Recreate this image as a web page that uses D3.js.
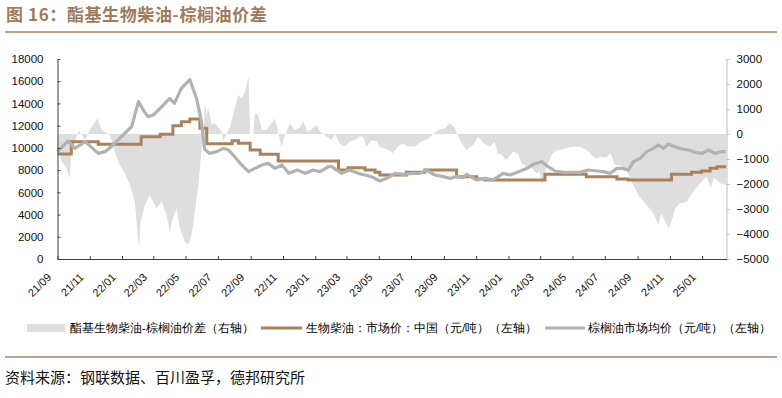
<!DOCTYPE html>
<html>
<head>
<meta charset="utf-8">
<script src="https://cdn.jsdelivr.net/npm/d3@7"></script>
<style>
  body { margin: 0; background: #fff; }
  text { font-family: "Liberation Sans", Arial, sans-serif; }
  .cjk { font-family: "Noto Sans CJK SC", sans-serif; }
</style>
</head>
<body>
<script>
// x axis labels (yy/mm)
var tickLabels = ["21/09","21/11","22/01","22/03","22/05","22/07","22/09","22/11","23/01","23/03",
  "23/05","23/07","23/09","23/11","24/01","24/03","24/05","24/07","24/09","24/11","25/01"];
var leftTicks = [0,2000,4000,6000,8000,10000,12000,14000,16000,18000];
var rightTicks = [-5000,-4000,-3000,-2000,-1000,0,1000,2000,3000];

// 酯基生物柴油-棕榈油价差 (右轴)
var spread = [
  ["2021-09-01",-600],["2021-09-05",-840],["2021-09-09",-1110],["2021-09-18",-1370],["2021-09-24",-1770],
  ["2021-09-27",-840],["2021-10-04",-310],["2021-10-11",160],["2021-10-23",-240],["2021-11-01",160],
  ["2021-11-07",360],["2021-11-16",630],["2021-11-23",160],["2021-11-29",90],["2021-12-09",-40],
  ["2021-12-18",-710],["2021-12-28",-1240],["2022-01-06",-1570],["2022-01-16",-2040],["2022-01-25",-2710],
  ["2022-01-30",-3910],["2022-02-02",-4570],["2022-02-05",-3510],["2022-02-13",-2840],["2022-02-22",-2440],
  ["2022-03-01",-2710],["2022-03-07",-2970],["2022-03-17",-2710],["2022-03-26",-3240],["2022-04-01",-3910],
  ["2022-04-07",-3370],["2022-04-14",-2970],["2022-04-20",-3770],["2022-04-30",-4310],["2022-05-05",-4400],
  ["2022-05-09",-4310],["2022-05-15",-3710],["2022-05-22",-2500],["2022-05-25",-2110],["2022-05-31",-640],
  ["2022-06-04",-100],["2022-06-06",1230],["2022-06-10",760],["2022-06-13",1030],["2022-06-19",360],
  ["2022-06-25",430],["2022-07-01",290],["2022-07-08",90],["2022-07-11",-310],["2022-07-17",0],
  ["2022-07-24",290],["2022-07-30",760],["2022-08-08",1560],["2022-08-15",1430],["2022-08-21",1690],
  ["2022-08-28",2290],["2022-08-31",0],["2022-09-06",0],["2022-09-09",830],["2022-09-15",760],
  ["2022-09-22",160],["2022-10-01",160],["2022-10-09",400],["2022-10-17",630],["2022-10-22",160],
  ["2022-10-29",-510],["2022-11-06",0],["2022-11-14",430],["2022-11-23",160],["2022-12-03",250],
  ["2022-12-09",500],["2022-12-18",100],["2022-12-26",200],["2023-01-03",360],["2023-01-10",100],
  ["2023-01-22",-100],["2023-02-01",-240],["2023-02-07",0],["2023-02-16",-370],["2023-02-26",-510],
  ["2023-03-07",-300],["2023-03-17",-240],["2023-03-26",-100],["2023-04-01",-100],["2023-04-08",-510],
  ["2023-04-17",-250],["2023-04-27",-300],["2023-05-03",-510],["2023-05-19",-640],["2023-05-28",-770],
  ["2023-06-06",-500],["2023-06-16",-370],["2023-06-25",-500],["2023-07-08",-500],["2023-07-21",-300],
  ["2023-08-02",-200],["2023-08-12",0],["2023-08-21",160],["2023-09-03",230],["2023-09-12",430],
  ["2023-09-22",230],["2023-10-01",-240],["2023-10-14",-640],["2023-10-26",-440],["2023-11-05",-110],
  ["2023-11-17",-400],["2023-11-27",-510],["2023-12-06",-310],["2023-12-13",-840],["2023-12-16",-770],
  ["2023-12-28",-1040],["2024-01-10",-700],["2024-01-19",-800],["2024-01-26",-1170],["2024-02-04",-1310],
  ["2024-02-10",-1250],["2024-02-23",-1570],["2024-02-29",-1510],["2024-03-05",-2050],["2024-03-13",-1310],
  ["2024-03-22",-840],["2024-04-01",-640],["2024-04-07",-640],["2024-04-20",-550],["2024-05-02",-510],
  ["2024-05-15",-510],["2024-05-28",-640],["2024-06-06",-840],["2024-06-15",-1000],["2024-06-22",-900],
  ["2024-07-04",-950],["2024-07-11",-770],["2024-07-17",-1040],["2024-07-20",-1240],["2024-07-30",-1240],
  ["2024-08-11",-1440],["2024-08-21",-1910],["2024-09-02",-2440],["2024-09-18",-2840],["2024-10-01",-3170],
  ["2024-10-10",-3640],["2024-10-16",-3200],["2024-10-23",-3510],["2024-10-30",-3770],["2024-11-07",-3300],
  ["2024-11-11",-2970],["2024-11-20",-2770],["2024-12-03",-2710],["2024-12-15",-2310],["2024-12-28",-1970],
  ["2025-01-09",-1710],["2025-01-18",-2170],["2025-01-22",-1800],["2025-01-25",-1770],["2025-02-04",-1970],
  ["2025-02-15",-2040]
];

// 生物柴油：市场价：中国 (元/吨) — price changes
var biodiesel = [
  ["2021-09-01",9450],["2021-09-27",10560],["2021-11-17",10320],["2022-02-06",11010],["2022-03-14",11220],
  ["2022-04-07",12000],["2022-04-23",12360],["2022-05-09",12600],["2022-05-28",11760],["2022-06-10",10380],
  ["2022-07-28",10650],["2022-08-09",10410],["2022-08-31",9810],["2022-09-19",9420],["2022-10-23",8820],
  ["2023-02-14",8010],["2023-03-04",8220],["2023-04-05",8010],["2023-04-24",7800],["2023-05-03",7560],
  ["2023-06-22",7800],["2023-07-27",8010],["2023-09-25",7410],["2023-11-02",7200],["2023-11-18",7110],
  ["2024-03-10",7620],["2024-05-27",7410],["2024-07-24",7200],["2024-08-14",7110],["2024-11-04",7620],
  ["2024-12-12",7800],["2024-12-31",7920],["2025-01-16",8160],["2025-01-29",8310],["2025-02-16",8310]
];

// 棕榈油市场均价 (元/吨)
var palm = [
  ["2021-09-01",9660],["2021-09-21",10620],["2021-10-04",9960],["2021-10-23",10560],["2021-11-17",9510],
  ["2021-11-30",9660],["2021-12-15",10260],["2022-01-06",11310],["2022-01-19",11910],["2022-02-01",14160],
  ["2022-02-10",13410],["2022-02-19",12810],["2022-03-01",12960],["2022-03-17",13710],["2022-04-01",14460],
  ["2022-04-10",14010],["2022-04-23",15360],["2022-05-09",16150],["2022-05-22",14400],["2022-05-31",12360],
  ["2022-06-06",9900],["2022-06-15",9510],["2022-06-29",9660],["2022-07-11",9960],["2022-07-21",9810],
  ["2022-07-30",9360],["2022-08-12",8610],["2022-08-28",7860],["2022-09-09",8160],["2022-09-22",8460],
  ["2022-10-04",8610],["2022-10-17",8160],["2022-10-30",8460],["2022-11-12",7710],["2022-11-28",8010],
  ["2022-12-13",7710],["2022-12-28",8010],["2023-01-10",7860],["2023-01-26",8310],["2023-02-01",8310],
  ["2023-02-20",7710],["2023-03-07",8010],["2023-03-23",7710],["2023-04-05",7560],["2023-04-17",7410],
  ["2023-05-03",7020],["2023-05-16",7260],["2023-06-01",7710],["2023-06-16",7620],["2023-07-02",7710],
  ["2023-07-18",7710],["2023-07-30",8010],["2023-08-15",7560],["2023-08-31",7410],["2023-09-13",7260],
  ["2023-09-25",7410],["2023-10-08",7330],["2023-10-14",7620],["2023-11-02",7110],["2023-11-18",7260],
  ["2023-12-03",7110],["2023-12-22",7710],["2024-01-04",7560],["2024-01-20",7860],["2024-02-05",8160],
  ["2024-02-17",8520],["2024-03-04",8760],["2024-03-16",8310],["2024-03-29",7920],["2024-04-14",7800],
  ["2024-04-30",7800],["2024-05-15",7800],["2024-05-31",8010],["2024-06-16",7920],["2024-06-28",7860],
  ["2024-07-11",7710],["2024-07-24",8160],["2024-08-02",8160],["2024-08-15",8010],["2024-08-24",8760],
  ["2024-09-06",9060],["2024-09-18",9660],["2024-10-01",9960],["2024-10-10",10260],["2024-10-20",9960],
  ["2024-10-29",10320],["2024-11-11",10110],["2024-11-24",9900],["2024-12-06",9810],["2024-12-19",9600],
  ["2025-01-01",9510],["2025-01-13",9810],["2025-01-25",9510],["2025-02-06",9660],["2025-02-14",9660]
];

var parse = d3.timeParse("%Y-%m-%d");
var parseTick = d3.timeParse("%y/%m");

var W = 782, H = 398;
var plot = {left: 57.5, right: 726.5, top: 59, bottom: 259};

var svg = d3.select("body").append("svg")
    .attr("width", W)
    .attr("height", H);

var x = d3.scaleTime()
    .domain([parse("2021-09-01"), parse("2025-02-16")])
    .range([plot.left, plot.right]);
var yL = d3.scaleLinear().domain([0, 18000]).range([plot.bottom, plot.top]);
var yR = d3.scaleLinear().domain([-5000, 3000]).range([plot.bottom, plot.top]);

// title
svg.append("text")
    .attr("class", "cjk")
    .attr("x", 6).attr("y", 21)
    .style("font-size", "17px").style("font-weight", "bold")
    .style("letter-spacing", "0.6px")
    .style("fill", "#A07B5A")
    .text("图 16：酯基生物柴油-棕榈油价差");
svg.append("line")
    .attr("x1", 5).attr("x2", 777).attr("y1", 32).attr("y2", 32)
    .style("stroke", "#A88462").style("stroke-width", 1.5);

// area (right axis)
var area = d3.area()
    .x(function(d) { return x(parse(d[0])); })
    .y0(yR(0))
    .y1(function(d) { return yR(d[1]); });
svg.append("path")
    .datum(spread)
    .attr("d", area)
    .style("fill", "#DEDEDE");

// biodiesel step line
var stepLine = d3.line()
    .curve(d3.curveStepAfter)
    .x(function(d) { return x(parse(d[0])); })
    .y(function(d) { return yL(d[1]); });
svg.append("path")
    .datum(biodiesel)
    .attr("d", stepLine)
    .style("fill", "none")
    .style("stroke", "#A98259")
    .style("stroke-width", 3);

// palm oil line
var palmLine = d3.line()
    .x(function(d) { return x(parse(d[0])); })
    .y(function(d) { return yL(d[1]); });
svg.append("path")
    .datum(palm)
    .attr("d", palmLine)
    .style("fill", "none")
    .style("stroke", "#B2B2B2")
    .style("stroke-width", 3.2)
    .style("stroke-linejoin", "round");

// axes
var gL = svg.append("g")
    .attr("transform", "translate(" + plot.left + ",0)")
    .call(d3.axisLeft(yL).tickValues(leftTicks).tickFormat(d3.format("d"))
      .tickSize(-3).tickPadding(14).tickSizeOuter(0));
gL.select(".domain").style("stroke", "#404040");
gL.selectAll(".tick line").style("stroke", "#404040");
gL.selectAll("text").style("font-size", "11.5px").style("fill", "#111");

var gR = svg.append("g")
    .attr("transform", "translate(" + plot.right + ",0)")
    .call(d3.axisRight(yR).tickValues(rightTicks).tickFormat(d3.format("d"))
      .tickSize(3).tickPadding(7).tickSizeOuter(0));
gR.select(".domain").style("stroke", "#BFBFBF");
gR.selectAll(".tick line").style("stroke", "#BFBFBF");
gR.selectAll("text").style("font-size", "11.5px").style("fill", "#111");

var gX = svg.append("g")
    .attr("transform", "translate(0," + plot.bottom + ")")
    .call(d3.axisBottom(x)
      .tickValues(tickLabels.map(function(t) { return parseTick(t); }))
      .tickFormat(d3.timeFormat("%y/%m"))
      .tickSize(-3).tickSizeOuter(0));
gX.select(".domain").style("stroke", "#404040");
gX.selectAll(".tick line").style("stroke", "#404040");
gX.selectAll("text")
    .style("font-size", "11px").style("fill", "#111")
    .style("text-anchor", "end")
    .attr("y", 0).attr("dy", 0)
    .attr("transform", "translate(-6,19) rotate(-45)");

// legend
var legY = 328;
var leg = svg.append("g").attr("class", "cjk").style("font-size", "11.5px");
leg.append("rect").attr("x", 27).attr("y", legY - 4).attr("width", 38).attr("height", 8).style("fill", "#DEDEDE");
leg.append("text").attr("x", 70).attr("y", legY + 4).text("酯基生物柴油-棕榈油价差（右轴）");
leg.append("line").attr("x1", 261).attr("x2", 302).attr("y1", legY).attr("y2", legY)
    .style("stroke", "#A98259").style("stroke-width", 3);
leg.append("text").attr("x", 306).attr("y", legY + 4).text("生物柴油：市场价：中国（元/吨）（左轴）");
leg.append("line").attr("x1", 545).attr("x2", 585).attr("y1", legY).attr("y2", legY)
    .style("stroke", "#B2B2B2").style("stroke-width", 3);
leg.append("text").attr("x", 588).attr("y", legY + 4).text("棕榈油市场均价（元/吨）（左轴）");

// footer
svg.append("line")
    .attr("x1", 5).attr("x2", 777).attr("y1", 357).attr("y2", 357)
    .style("stroke", "#A88462").style("stroke-width", 1.5);
svg.append("text")
    .attr("class", "cjk")
    .attr("x", 5).attr("y", 383)
    .style("font-size", "15px").style("fill", "#111")
    .text("资料来源：钢联数据、百川盈孚，德邦研究所");
</script>
</body>
</html>
